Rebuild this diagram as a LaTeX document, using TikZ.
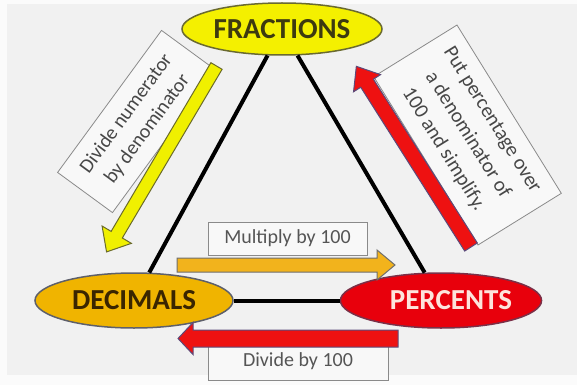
\documentclass[tikz,border=0pt]{standalone}
\usepackage{fontspec}
\setmainfont{Carlito}
\usetikzlibrary{shapes.geometric}
\definecolor{bgstrip}{HTML}{FBFBFB}
\definecolor{bggray}{HTML}{F1F1F1}
\definecolor{boxfill}{HTML}{F8F8F8}
\definecolor{boxline}{HTML}{8A8A8A}
\definecolor{boxtext}{HTML}{555555}
\definecolor{rottext}{HTML}{474747}
\definecolor{fracfill}{HTML}{F4F000}
\definecolor{fracline}{HTML}{6A6A30}
\definecolor{fractext}{HTML}{3D3A10}
\definecolor{decfill}{HTML}{F0B400}
\definecolor{decline}{HTML}{5E606A}
\definecolor{dectext}{HTML}{3A2500}
\definecolor{perfill}{HTML}{E8000C}
\definecolor{perline}{HTML}{7A3048}
\definecolor{pertext}{HTML}{FDE4DC}
\definecolor{yarrfill}{HTML}{F0F000}
\definecolor{yarrline}{HTML}{6B6B2A}
\definecolor{oarrfill}{HTML}{F2B31C}
\definecolor{oarrline}{HTML}{6E6E6E}
\definecolor{rarrfill}{HTML}{EE1111}
\definecolor{rarrline}{HTML}{5C4A7A}
% block arrow: style, tail, angle, length, shaft, head width, head length
\newcommand{\blkarrow}[7]{%
  \draw[#1, shift={#2}, rotate=#3]
    (0,-#5/2) -- (#4-#7,-#5/2) -- (#4-#7,-#6/2) -- (#4,0)
    -- (#4-#7,#6/2) -- (#4-#7,#5/2) -- (0,#5/2) -- cycle;}
\tikzset{
  x=1pt, y=-1pt,
  topic/.style={ellipse, line width=1.5pt, inner sep=0pt,
    font=\fontsize{29}{30}\selectfont\bfseries},
  labelbox/.style={rectangle, draw=boxline, fill=boxfill, line width=0.8pt,
    text=boxtext, align=center, inner sep=2pt,
    font=\fontsize{20}{24}\selectfont},
  tri/.style={line width=4pt, black},
  yarrow/.style={fill=yarrfill, draw=yarrline, line width=1pt, line join=miter},
  oarrow/.style={fill=oarrfill, draw=oarrline, line width=1pt, line join=miter},
  rarrow/.style={fill=rarrfill, draw=rarrline, line width=1pt, line join=miter}
}
\begin{document}
\begin{tikzpicture}
\useasboundingbox (0,0) rectangle (577,385);
\fill[bgstrip] (0,0) rectangle (577,385);
\fill[bggray] (7,4) rectangle (577,375);

% text boxes
\node[labelbox, rotate=53.8, minimum width=176, minimum height=68,
  text=rottext, font=\fontsize{20}{26}\selectfont]
  (lbox) at (137,121.5) {Divide numerator\\by denominator};
\node[labelbox, rotate=-58.2, minimum width=198, minimum height=98,
  text=rottext, font=\fontsize{20.5}{28.5}\selectfont]
  (rbox) at (467.5,135) {Put percentage over\\a denominator of\\100 and simplify.};
\node[labelbox, minimum width=159, minimum height=33]
  (mbox) at (287.5,238.5) {Multiply by 100};
\node[labelbox, minimum width=180, minimum height=38]
  (dbox) at (298,361) {Divide by 100};

% topic ellipses
\node[topic, fill=fracfill, draw=fracline, text=fractext,
  minimum width=200, minimum height=52] (fra) at (282,29) {FRACTIONS};
\node[topic, fill=decfill, draw=decline, text=dectext,
  minimum width=198, minimum height=55] (dec) at (134,300.5) {DECIMALS};
\node[topic, fill=perfill, draw=perline, text=pertext,
  minimum width=198, minimum height=55] (per) at (441,300.5) {\hspace*{20pt}PERCENTS};

% triangle
\draw[tri] (fra) -- (dec);
\draw[tri] (fra) -- (per);
\draw[tri] (dec) -- (per);

% block arrows
\blkarrow{yarrow}{(216.5,66)}{-120.6}{216}{13}{34}{20}
\blkarrow{rarrow}{(471,247)}{122.4}{214}{15}{32}{20}
\blkarrow{oarrow}{(177,265)}{0}{218}{14}{30}{18}
\blkarrow{rarrow}{(398,338.5)}{180}{220}{17}{32}{15}
\end{tikzpicture}
\end{document}
